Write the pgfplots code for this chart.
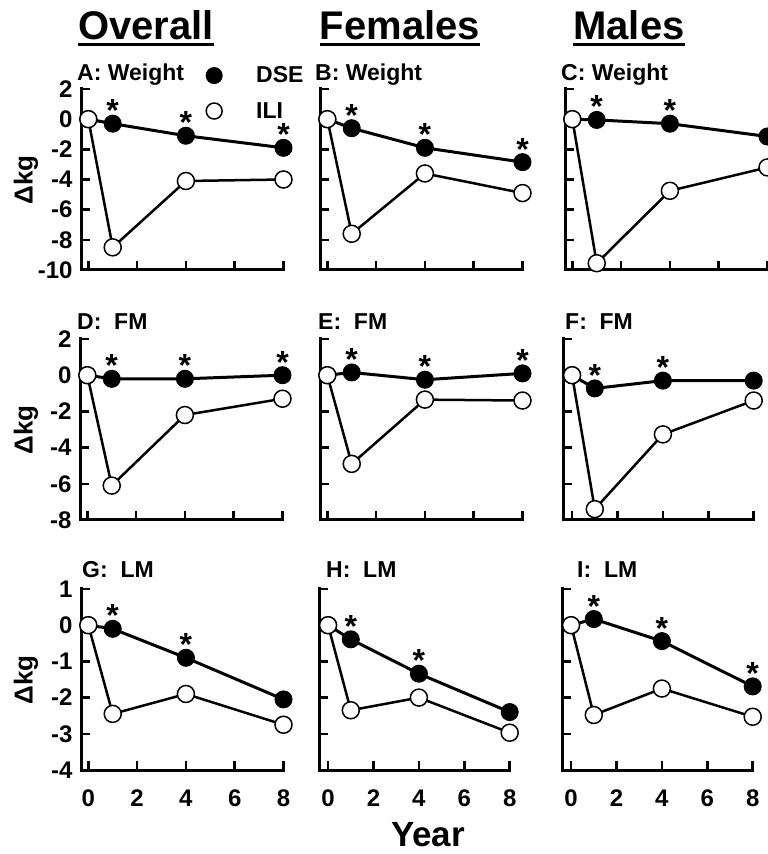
\documentclass[border=0pt]{standalone}
\usepackage{fontspec}
\setmainfont{Liberation Sans}
\usepackage{pgfplots}
\pgfplotsset{compat=1.18}

\newcommand\fs[1]{\fontsize{#1}{#1}\selectfont}

\pgfplotsset{
  panel/.style={
    scale only axis, height=181pt,
    anchor=south west, clip=false,
    axis lines=left,
    axis line style={-, line width=3pt, line cap=rect},
    every outer x axis line/.append style={-},
    every outer y axis line/.append style={-},
    tick align=inside, major tick length=9pt,
    tick style={line width=2.5pt, black},
    xtick={0,2,4,6,8}, xticklabels={}, yticklabels={},
    tick label style={font=\fs{24}},
    xticklabel style={anchor=base, yshift=-36pt},
    yticklabel style={xshift=-5pt},
    /pgf/number format/assume math mode=true,
  },
  wide/.style={xmin=-0.3, xmax=8, width=202.5pt},
  narrow/.style={xmin=-0.4, xmax=8, width=190.7pt},
  dse/.style={black, line width=3pt, mark=*, mark size=8.5pt,
    mark options={fill=black, line width=1pt}},
  ili/.style={black, line width=2.5pt, mark=*, mark size=8.5pt,
    mark options={fill=white, draw=black, line width=1.5pt}},
  star/.style={draw=none, mark=none, nodes near coords={*},
    every node near coord/.style={anchor=base, inner sep=0pt, yshift=2pt, font=\fs{32}}},
  row1/.style={panel, ymin=-10, ymax=2, ytick={-10,-8,-6,-4,-2,0,2}},
  row2/.style={panel, ymin=-8, ymax=2, ytick={-8,-6,-4,-2,0,2}},
  row3/.style={panel, ymin=-4, ymax=1, ytick={-4,-3,-2,-1,0,1}},
}

\begin{document}
\bfseries
\begin{tikzpicture}
\path[use as bounding box] (0pt,0pt) rectangle (768pt,854pt);

% column titles
\foreach \t/\x in {Overall/146, Females/400, Males/629}{
  \node[anchor=base, inner sep=0pt, font=\fs{40}] (tt) at (\x pt,814pt) {\t};
  \draw[line width=3pt] ([yshift=-5pt]tt.base west) -- ([yshift=-5pt]tt.base east);
}

% row 1: weight
\begin{axis}[row1, wide, at={(81pt,584pt)}, yticklabels={-10,-8,-6,-4,-2,0,2},
  legend style={at={(axis cs:4.7,3.75)}, anchor=north west, draw=none, fill=none,
    font=\fs{23}, row sep=14pt, legend cell align=left},
  legend image code/.code={\draw[#1] plot coordinates {(0pt,0pt)};}]
\addplot[dse, forget plot] coordinates {(0,0)(1,-0.3)(4,-1.1)(8,-1.9)};
\addplot[ili, forget plot] coordinates {(0,0)(1,-8.5)(4,-4.1)(8,-4.0)};
\addplot[star, forget plot] coordinates {(1,-0.3)(4,-1.1)(8,-1.9)};
\addlegendimage{dse, only marks, mark size=8pt}
\addlegendentry{\hspace{32pt}DSE}
\addlegendimage{ili, only marks, mark size=8pt}
\addlegendentry{\hspace{32pt}ILI}
\end{axis}
\begin{axis}[row1, wide, at={(320pt,584pt)}]
\addplot[dse] coordinates {(0,0)(1,-0.6)(4,-1.9)(8,-2.85)};
\addplot[ili] coordinates {(0,0)(1,-7.6)(4,-3.6)(8,-4.9)};
\addplot[star] coordinates {(1,-0.6)(4,-1.9)(8,-2.85)};
\end{axis}
\begin{axis}[row1, wide, at={(565pt,584pt)}]
\addplot[dse] coordinates {(0,0)(1,-0.05)(4,-0.3)(8,-1.15)};
\addplot[ili] coordinates {(0,0)(1,-9.55)(4,-4.75)(8,-3.2)};
\addplot[star] coordinates {(1,-0.05)(4,-0.3)};
\end{axis}

% row 2: fat mass
\begin{axis}[row2, wide, at={(80pt,334pt)}, yticklabels={-8,-6,-4,-2,0,2}]
\addplot[dse] coordinates {(0,0)(1,-0.2)(4,-0.2)(8,0)};
\addplot[ili] coordinates {(0,0)(1,-6.1)(4,-2.2)(8,-1.3)};
\addplot[star] coordinates {(1,-0.2)(4,-0.2)(8,0)};
\end{axis}
\begin{axis}[row2, wide, at={(320pt,334pt)}]
\addplot[dse] coordinates {(0,0)(1,0.15)(4,-0.25)(8,0.1)};
\addplot[ili] coordinates {(0,0)(1,-4.9)(4,-1.35)(8,-1.4)};
\addplot[star] coordinates {(1,0.15)(4,-0.25)(8,0.1)};
\end{axis}
\begin{axis}[row2, narrow, at={(563pt,334pt)}]
\addplot[dse] coordinates {(0,0)(1,-0.73)(4,-0.3)(8,-0.3)};
\addplot[ili] coordinates {(0,0)(1,-7.4)(4,-3.27)(8,-1.4)};
\addplot[star] coordinates {(1,-0.73)(4,-0.3)};
\end{axis}

% row 3: lean mass
\begin{axis}[row3, wide, at={(81pt,84pt)}, yticklabels={-4,-3,-2,-1,0,1}, xticklabels={0,2,4,6,8}]
\addplot[dse] coordinates {(0,0)(1,-0.1)(4,-0.9)(8,-2.05)};
\addplot[ili] coordinates {(0,0)(1,-2.45)(4,-1.9)(8,-2.75)};
\addplot[star] coordinates {(1,-0.1)(4,-0.9)};
\end{axis}
\begin{axis}[row3, narrow, at={(319pt,84pt)}, xticklabels={0,2,4,6,8}]
\addplot[dse] coordinates {(0,0)(1,-0.39)(4,-1.34)(8,-2.4)};
\addplot[ili] coordinates {(0,0)(1,-2.35)(4,-2.0)(8,-2.97)};
\addplot[star] coordinates {(1,-0.39)(4,-1.34)};
\end{axis}
\begin{axis}[row3, narrow, at={(562pt,84pt)}, xticklabels={0,2,4,6,8}]
\addplot[dse] coordinates {(0,0)(1,0.17)(4,-0.44)(8,-1.69)};
\addplot[ili] coordinates {(0,0)(1,-2.48)(4,-1.75)(8,-2.53)};
\addplot[star] coordinates {(1,0.17)(4,-0.44)(8,-1.69)};
\end{axis}

% panel letters
\foreach \l/\x/\y in {A: Weight/77/773, B: Weight/315/773, C: Weight/561/773,
    D:~~FM/77/524, E:~~FM/318/524, F:~~FM/565/524,
    G:~~LM/82/276, H:~~LM/326/276, I:~~LM/577/276}{
  \node[anchor=base west, inner sep=0pt, font=\fs{23}] at (\x pt,\y pt) {\l};
}

% axis titles
\foreach \y in {674,424,174}{
  \node[rotate=90, inner sep=0pt, font=\fs{26}] at (26pt,\y pt) {Δkg};
}
\node[anchor=base, inner sep=0pt, font=\fs{35}] at (428pt,7pt) {Year};
\end{tikzpicture}
\end{document}
